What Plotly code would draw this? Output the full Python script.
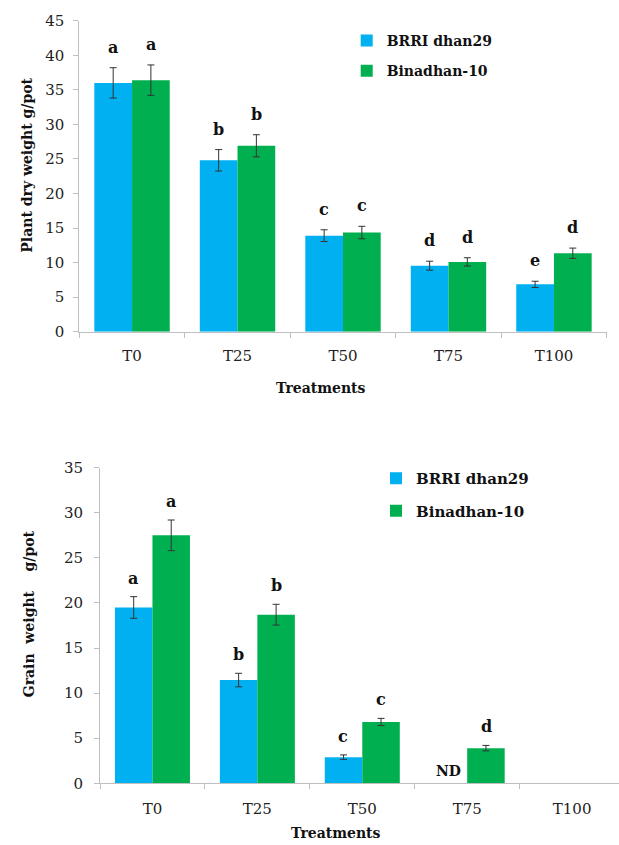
import plotly.graph_objects as go

treatments = ["T0", "T25", "T50", "T75", "T100"]
series_names = ["BRRI dhan29", "Binadhan-10"]

# Top chart: plant dry weight (g/pot)
dry_brri = [36.0, 24.8, 13.9, 9.55, 6.85]
dry_brri_err = [2.2, 1.55, 0.85, 0.65, 0.45]
dry_bina = [36.4, 26.9, 14.35, 10.1, 11.35]
dry_bina_err = [2.2, 1.6, 0.9, 0.6, 0.75]
dry_brri_letters = ["a", "b", "c", "d", "e"]
dry_bina_letters = ["a", "b", "c", "d", "d"]

# Bottom chart: grain weight (g/pot); None = not detected / no data
grain_brri = [19.5, 11.45, 2.9, None, None]
grain_brri_err = [1.2, 0.75, 0.25, 0, 0]
grain_bina = [27.5, 18.7, 6.8, 3.9, None]
grain_bina_err = [1.7, 1.15, 0.4, 0.3, 0]
grain_brri_letters = ["a", "b", "c", "ND", ""]
grain_bina_letters = ["a", "b", "c", "d", ""]

BLUE = "#00B0F0"
GREEN = "#00B050"
FONT = "DejaVu Serif"
AXC = "#bfbfbf"
W, H = 619, 845

fig = go.Figure()

def add_bar(x, y, err, name, color, xa, ya, legend, show):
    fig.add_trace(go.Bar(
        x=x, y=y, name=name, marker=dict(color=color, line=dict(width=0)),
        error_y=dict(type="data", array=err, color="#333333", thickness=1, width=3.5),
        xaxis=xa, yaxis=ya, legend=legend, legendgroup=legend + name,
        showlegend=show,
    ))

add_bar(treatments, dry_brri, dry_brri_err, series_names[0], BLUE, "x", "y", "legend", True)
add_bar(treatments, dry_bina, dry_bina_err, series_names[1], GREEN, "x", "y", "legend", True)
add_bar(treatments, grain_brri, grain_brri_err, series_names[0], BLUE, "x2", "y2", "legend2", True)
add_bar(treatments, grain_bina, grain_bina_err, series_names[1], GREEN, "x2", "y2", "legend2", True)

annotations = []
letter_font = dict(family=FONT, size=16, color="#111111", weight="bold")

def add_letters(vals, errs, letters, shift, xref, yref, ysh):
    for t, v, e, l in zip(treatments, vals, errs, letters):
        if not l:
            continue
        if v is None:
            annotations.append(dict(x=t, y=0, xref=xref, yref=yref, text=l,
                                    showarrow=False, xshift=shift, yshift=2,
                                    xanchor="center", yanchor="bottom",
                                    font=dict(family=FONT, size=14, color="#111111", weight="bold")))
        else:
            annotations.append(dict(x=t, y=v + e, xref=xref, yref=yref, text=l,
                                    showarrow=False, xshift=shift, yshift=ysh,
                                    xanchor="center", yanchor="bottom", font=letter_font))

add_letters(dry_brri, dry_brri_err, dry_brri_letters, -19, "x", "y", 9)
add_letters(dry_bina, dry_bina_err, dry_bina_letters, 19, "x", "y", 9)
add_letters(grain_brri, grain_brri_err, grain_brri_letters, -19, "x2", "y2", 7)
add_letters(grain_bina, grain_bina_err, grain_bina_letters, 19, "x2", "y2", 7)

title_font = dict(family=FONT, size=14, color="#111111", weight="bold")
def paper_text(px, py, text, angle=0):
    return dict(x=px / W, y=1 - py / H, xref="paper", yref="paper", text=text,
                textangle=angle, showarrow=False, font=title_font,
                xanchor="center", yanchor="middle")

annotations += [
    paper_text(26.7, 165, "Plant dry weight g/pot", -90),
    paper_text(29.3, 614, "Grain&nbsp;&nbsp;weight&nbsp;&nbsp;&nbsp;&nbsp;g/pot", -90),
    paper_text(320.8, 388, "Treatments"),
    paper_text(336, 833, "Treatments"),
]

tick_font = dict(family=FONT, size=15, color="#222222")
xcommon = dict(type="category", categoryorder="array", categoryarray=treatments,
               tickson="boundaries", ticks="outside", ticklen=5, tickcolor=AXC,
               showline=True, linecolor=AXC, linewidth=1, showgrid=False,
               tickfont=tick_font, fixedrange=True, automargin=False)
ycommon = dict(ticks="outside", ticklen=5, tickcolor=AXC, showline=True, linecolor=AXC,
               linewidth=1, showgrid=False, zeroline=False, tickfont=tick_font, dtick=5,
               automargin=False, fixedrange=True)

fig.update_layout(
    width=W, height=H, margin=dict(l=0, r=0, t=0, b=0, autoexpand=False),
    paper_bgcolor="white", plot_bgcolor="white",
    barmode="group", bargap=0.285, bargroupgap=0,
    font=dict(family=FONT),
    xaxis=dict(domain=[79.3 / W, 606.7 / W], anchor="y", range=[-0.5, 4.5],
               ticklabelstandoff=10, **xcommon),
    yaxis=dict(domain=[1 - 331.7 / H, 1 - 20.7 / H], anchor="x", range=[0, 45],
               ticklabelstandoff=6, **ycommon),
    xaxis2=dict(domain=[100 / W, 1.0], anchor="y2", range=[-0.5, 4.447],
                ticklabelstandoff=12, **xcommon),
    yaxis2=dict(domain=[1 - 783.3 / H, 1 - 467.7 / H], anchor="x2", range=[0, 35],
                ticklabelstandoff=8, **ycommon),
    legend=dict(x=(386.7 - 40) / W, y=1 - 25 / H, xanchor="left", yanchor="top",
                bgcolor="rgba(0,0,0,0)", tracegroupgap=9,
                font=dict(family=FONT, size=14, color="#111111", weight="bold")),
    legend2=dict(x=(416 - 40) / W, y=1 - 462 / H, xanchor="left", yanchor="top",
                 bgcolor="rgba(0,0,0,0)", tracegroupgap=10,
                 font=dict(family=FONT, size=15, color="#111111", weight="bold")),
    annotations=annotations,
)

fig.write_html(
    "out.html",
    config={"displayModeBar": False},
    post_script="document.body.style.margin='0';document.body.style.overflow='hidden';",
)
